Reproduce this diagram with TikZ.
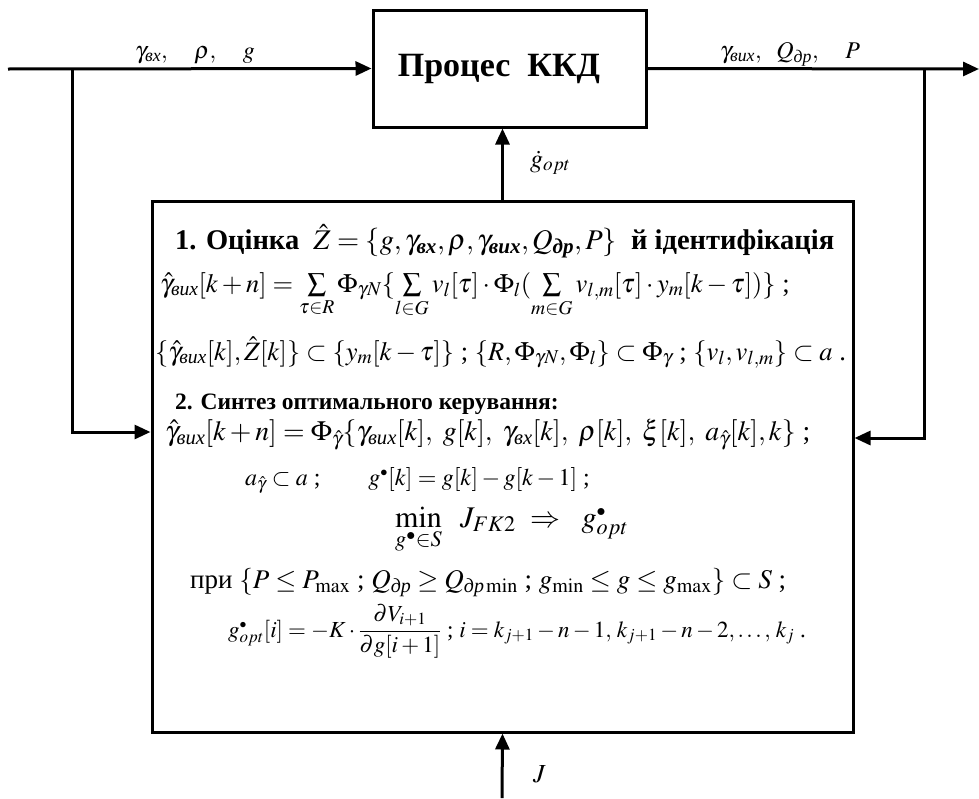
\documentclass[tikz,border=0pt]{standalone}
\usepackage{amsmath}
\usepackage{mathptmx}
\usepackage{fontspec}
\setmainfont{Liberation Serif}
\usetikzlibrary{arrows.meta,positioning}
\newcommand{\gvx}{\gamma_{\textit{вх}}}
\newcommand{\gvyx}{\gamma_{\textit{вих}}}
\newcommand{\Qdr}{Q_{\textit{др}}}
\newcommand{\gdt}{g^{\scriptscriptstyle\bullet}}

\begin{document}
\begin{tikzpicture}[x=1pt,y=-1pt,
 blk/.style={draw,line width=3pt,inner sep=0pt},
 a/.style={-{Triangle[length=16pt,width=14pt]},line width=3pt},
 ln/.style={anchor=base west,inner sep=0pt,font=\fontsize{26.5}{30}\selectfont},
 lb/.style={anchor=base west,inner sep=0pt,font=\fontsize{24}{28}\selectfont}]
\useasboundingbox (0,0) rectangle (979,798);
\node[blk,minimum width=273pt,minimum height=117pt] (proc) at (509.5,68.5) {};
\node[font=\fontsize{34}{38}\selectfont\bfseries,inner sep=0pt] (ttl) at (499,69) {Процес\ \ ККД};
\node[blk,minimum width=701pt,minimum height=531pt] (ctrl) at (502.5,466.5) {};
% inputs and outputs
\coordinate (in) at (8,69);
\coordinate (bl) at (72,69);
\coordinate (out) at (979,69);
\coordinate (br) at (924,69);
\coordinate (jin) at (502,798);
\draw[a] (in) -- (proc.west);
\draw[a] (proc.east) -- (out);
\draw[a] (bl) |- ([yshift=34.5pt]ctrl.west);
\draw[a] (br) |- ([yshift=28.5pt]ctrl.east);
\draw[a] (ctrl.north) -- (ctrl.north |- proc.south);
\draw[a] (jin) -- (ctrl.south);
\node[lb] (xin) at (135,58) {$\gvx,\quad\rho,\quad g$};
\node[lb] (xout) at (720,58) {$\gvyx,\ \ \Qdr,\quad P$};
\node[lb,font=\fontsize{26}{30}\selectfont] (gopt) at (530,167) {$\dot g_{opt}$};
\node[lb,font=\fontsize{26}{30}\selectfont] (jlab) at (533,782) {$J$};
% estimation and control
\node[ln,font=\fontsize{28.5}{32}\selectfont\bfseries] (l1) at (175,249)
  {1. Оцінка \ $\hat Z=\{g,\gvx,\rho,\gvyx,\Qdr,P\}$ \ й ідентифікація};
\node[ln] (l2) at (160,292)
  {$\hat\gamma_{\textit{вих}}[k+n]=\sum\limits_{\tau\in R}\Phi_{\gamma N}\{\sum\limits_{l\in G}v_l[\tau]\cdot\Phi_l(\sum\limits_{m\in G}v_{l,m}[\tau]\cdot y_m[k-\tau])\}$ ;};
\node[ln] (l3) at (155,360)
  {$\{\hat\gamma_{\textit{вих}}[k],\hat Z[k]\}\subset\{y_m[k-\tau]\}$ ; $\{R,\Phi_{\gamma N},\Phi_l\}\subset\Phi_\gamma$ ; $\{v_l,v_{l,m}\}\subset a$ .};
\node[ln,font=\fontsize{23.5}{27}\selectfont\bfseries] (l4) at (175,409)
  {2. Синтез оптимального керування:};
\node[ln,font=\fontsize{27.8}{32}\selectfont] (l5) at (165,440)
  {$\hat\gamma_{\textit{вих}}[k+n]=\Phi_{\hat\gamma}\{\gvyx[k],\ g[k],\ \gvx[k],\ \rho[k],\ \xi[k],\ a_{\hat\gamma}[k],k\}$ ;};
\node[ln,font=\fontsize{24}{28}\selectfont] (l6) at (245,485)
  {$a_{\hat\gamma}\subset a$ ;\qquad $\gdt[k]=g[k]-g[k-1]$ ;};
\node[ln,font=\fontsize{30}{34}\selectfont] (l7) at (395,527)
  {$\min\limits_{\gdt\in S}\ \ J_{FK2}\ \Rightarrow\ \ \gdt_{opt}$};
\node[ln,font=\fontsize{27}{31}\selectfont] (l8) at (190,588)
  {при $\{P\le P_{\max}$ ; $\Qdr\ge Q_{\textit{др}\min}$ ; $g_{\min}\le g\le g_{\max}\}\subset S$ ;};
\node[ln,font=\fontsize{23}{27}\selectfont] (l9) at (228,637)
  {$\gdt_{opt}[i]=-K\cdot\dfrac{\partial V_{i+1}}{\partial g[i+1]}$ ; $i=k_{j+1}-n-1,\,k_{j+1}-n-2,\dots,\,k_j$ .};
\end{tikzpicture}
\end{document}
